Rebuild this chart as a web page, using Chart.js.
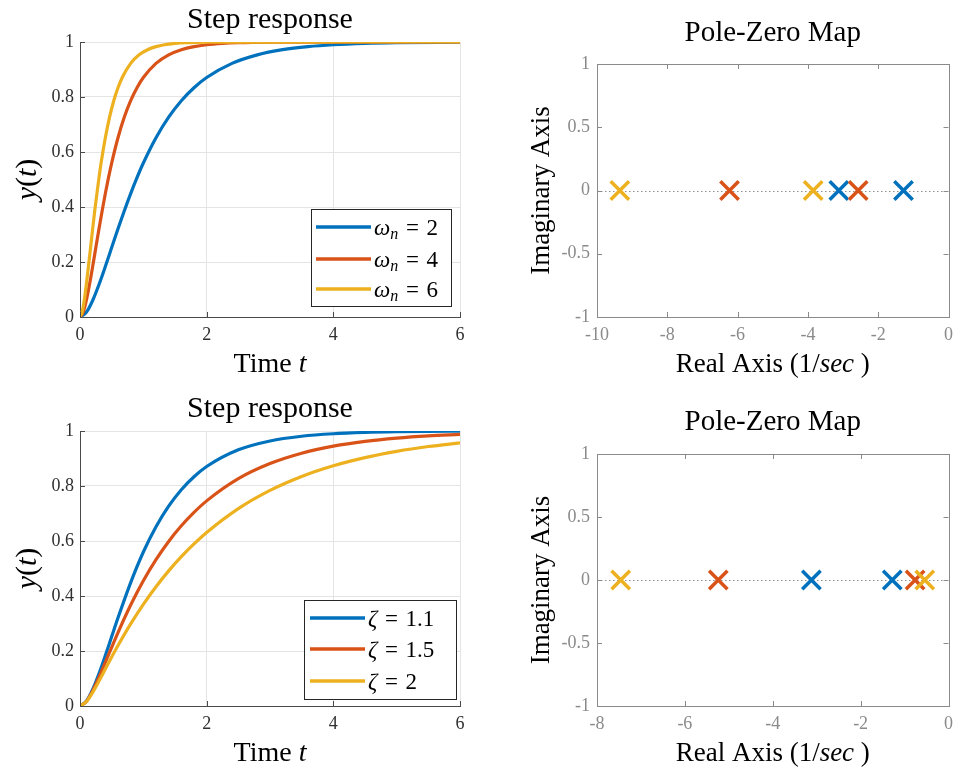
<!DOCTYPE html>
<html>
<head>
<meta charset="utf-8">
<title>Step response and pole-zero maps</title>
<script src="https://cdn.jsdelivr.net/npm/chart.js@4.4.1/dist/chart.umd.min.js"></script>
<style>
  body { margin: 0; background: #fff; }
  #wrap { position: relative; width: 965px; height: 772px; overflow: hidden; }
  canvas { position: absolute; }
</style>
</head>
<body>
<div id="wrap">
  <canvas id="stepTop" width="480" height="389" style="left:0;top:0"></canvas>
  <canvas id="pzTop" width="485" height="389" style="left:480px;top:0"></canvas>
  <canvas id="stepBot" width="480" height="383" style="left:0;top:389px"></canvas>
  <canvas id="pzBot" width="485" height="383" style="left:480px;top:389px"></canvas>
</div>
<script>
const COLORS = ['#0072BD', '#D95319', '#EDB120'];

// top row: zeta = 1.1, natural frequency 2, 4, 6
const natFreqs = [2, 4, 6];
const timeW2 = [0, 0.1, 0.2, 0.3, 0.4, 0.5, 0.6, 0.7, 0.8, 0.9, 1.0, 1.2, 1.4, 1.6, 1.8, 2.0, 2.4, 2.8, 3.2, 3.6, 4.0, 4.5, 5.0, 6.0];
const respW2 = [0, 0.0172, 0.0601, 0.1181, 0.1837, 0.2524, 0.3207, 0.3866, 0.4488, 0.5067, 0.5599, 0.6520, 0.7269, 0.7866, 0.8338, 0.8708, 0.9222, 0.9533, 0.9720, 0.9832, 0.9900, 0.9947, 0.9972, 0.9992];
const timeW4 = [0, 0.05, 0.1, 0.15, 0.2, 0.25, 0.3, 0.35, 0.4, 0.45, 0.5, 0.6, 0.7, 0.8, 0.9, 1.0, 1.2, 1.4, 1.6, 1.8, 2.0, 2.25, 2.5, 3.0, 4.0, 6.0];
const respW4 = [0, 0.0172, 0.0601, 0.1181, 0.1837, 0.2524, 0.3207, 0.3866, 0.4488, 0.5067, 0.5599, 0.6520, 0.7269, 0.7866, 0.8338, 0.8708, 0.9222, 0.9533, 0.9720, 0.9832, 0.9900, 0.9947, 0.9972, 0.9992, 0.9999, 1.0];
const timeW6 = [0, 0.033, 0.067, 0.1, 0.133, 0.167, 0.2, 0.233, 0.267, 0.3, 0.333, 0.4, 0.467, 0.533, 0.6, 0.667, 0.8, 0.933, 1.067, 1.2, 1.333, 1.5, 1.667, 2.0, 2.667, 6.0];
const respW6 = [0, 0.0172, 0.0601, 0.1181, 0.1837, 0.2524, 0.3207, 0.3866, 0.4488, 0.5067, 0.5599, 0.6520, 0.7269, 0.7866, 0.8338, 0.8708, 0.9222, 0.9533, 0.9720, 0.9832, 0.9900, 0.9947, 0.9972, 0.9992, 0.9999, 1.0];
const polesW2 = [-1.28, -3.12];
const polesW4 = [-2.57, -6.23];
const polesW6 = [-3.85, -9.35];

// bottom row: natural frequency 2, zeta = 1.1, 1.5, 2
const dampings = ['1.1', '1.5', '2'];
const timeZ = [0, 0.1, 0.2, 0.3, 0.4, 0.5, 0.6, 0.8, 1.0, 1.2, 1.4, 1.6, 1.8, 2.0, 2.5, 3.0, 3.5, 4.0, 4.5, 5.0, 5.5, 6.0];
const respZ11 = [0, 0.0172, 0.0601, 0.1181, 0.1837, 0.2524, 0.3207, 0.4488, 0.5599, 0.6520, 0.7269, 0.7866, 0.8338, 0.8708, 0.9315, 0.9638, 0.9809, 0.9900, 0.9947, 0.9972, 0.9985, 0.9992];
const respZ15 = [0, 0.0166, 0.0550, 0.1045, 0.1585, 0.2134, 0.2671, 0.3672, 0.4555, 0.5322, 0.5984, 0.6552, 0.7040, 0.7459, 0.8266, 0.8816, 0.9192, 0.9449, 0.9624, 0.9743, 0.9825, 0.9880];
const respZ2 = [0, 0.0155, 0.0496, 0.0909, 0.1344, 0.1778, 0.2198, 0.2985, 0.3696, 0.4337, 0.4913, 0.5430, 0.5894, 0.6312, 0.7179, 0.7842, 0.8349, 0.8737, 0.9034, 0.9261, 0.9435, 0.9568];
const polesZ11 = [-1.28, -3.12];
const polesZ15 = [-0.76, -5.24];
const polesZ2 = [-0.54, -7.46];

const SERIF = '"Liberation Serif", "Times New Roman", serif';
const f = (size, italic) => (italic ? 'italic ' : '') + size + 'px ' + SERIF;

function drawParts(ctx, parts, x, y, align) {
  let w = 0;
  parts.forEach(p => { ctx.font = p.font; p.w = ctx.measureText(p.text).width; w += p.w; });
  let cx = align === 'center' ? x - w / 2 : x;
  ctx.textAlign = 'left';
  ctx.textBaseline = 'alphabetic';
  parts.forEach(p => { ctx.font = p.font; ctx.fillText(p.text, cx, y + (p.dy || 0)); cx += p.w; });
}

const omegaParts = v => [
  {text: 'ω', font: f(23, true)},
  {text: 'n', font: f(16, true), dy: 4},
  {text: '\u2004=\u2004' + v, font: f(23)}
];
const zetaParts = v => [
  {text: 'ζ', font: f(23, true)},
  {text: '\u2004=\u2004' + v, font: f(23)}
];

const stepTitle = 'Step response';
const pzTitle = 'Pole-Zero Map';
const timeLabel = [{text: 'Time ', font: f(28)}, {text: 't', font: f(28, true)}];
const yLabel = [{text: 'y', font: f(30, true)}, {text: '(', font: f(30)}, {text: 't', font: f(30, true)}, {text: ')', font: f(30)}];
const realLabel = [{text: 'Real Axis (1/', font: f(27)}, {text: 'sec', font: f(27, true)}, {text: ' )', font: f(27)}];
const imagLabel = [{text: 'Imaginary Axis', font: f(27)}];

const deco = {
  stepTop: {kind: 'step', title: stepTitle, xl: timeLabel, yl: yLabel, yx: 36,
    legend: {x: 311, y: 209, w: 140, h: 97, rows: [227, 259, 289], lx0: 316, lx1: 371, tx: 374,
      parts: natFreqs.map(omegaParts)}},
  stepBot: {kind: 'step', title: stepTitle, xl: timeLabel, yl: yLabel, yx: 36,
    legend: {x: 304, y: 211, w: 152, h: 99, rows: [229, 260, 292], lx0: 310, lx1: 365, tx: 368,
      parts: dampings.map(zetaParts)}},
  pzTop: {kind: 'pz', title: pzTitle, xl: realLabel, yl: imagLabel, yx: 69},
  pzBot: {kind: 'pz', title: pzTitle, xl: realLabel, yl: imagLabel, yx: 69}
};

const matlabLook = {
  id: 'matlabLook',
  beforeDatasetsDraw(chart) {
    const d = deco[chart.canvas.id];
    if (d.kind !== 'pz') return;
    const {ctx, chartArea: a, scales} = chart;
    const y0 = Math.round(scales.y.getPixelForValue(0)) + 0.5;
    ctx.save();
    ctx.strokeStyle = '#8f8f8f';
    ctx.lineWidth = 1;
    ctx.setLineDash([1.5, 2.5]);
    ctx.beginPath();
    ctx.moveTo(a.left, y0);
    ctx.lineTo(a.right, y0);
    ctx.stroke();
    ctx.restore();
  },
  afterDraw(chart) {
    const d = deco[chart.canvas.id];
    const {ctx, chartArea: a, scales} = chart;
    const pz = d.kind === 'pz';
    const axisCol = pz ? '#8a8a8a' : '#4a4a4a';
    ctx.save();

    // inward tick marks
    ctx.strokeStyle = axisCol;
    ctx.lineWidth = 1;
    ctx.beginPath();
    scales.x.ticks.forEach(t => {
      const px = Math.round(scales.x.getPixelForValue(t.value)) + 0.5;
      ctx.moveTo(px, a.bottom); ctx.lineTo(px, a.bottom - 5);
      if (pz) { ctx.moveTo(px, a.top); ctx.lineTo(px, a.top + 5); }
    });
    scales.y.ticks.forEach(t => {
      const py = Math.round(scales.y.getPixelForValue(t.value)) + 0.5;
      ctx.moveTo(a.left, py); ctx.lineTo(a.left + 5, py);
      if (pz) { ctx.moveTo(a.right, py); ctx.lineTo(a.right - 5, py); }
    });
    ctx.stroke();
    if (pz) ctx.strokeRect(Math.round(a.left) + 0.5, Math.round(a.top) + 0.5, Math.round(a.right - a.left), Math.round(a.bottom - a.top));

    // titles and axis labels
    ctx.fillStyle = '#000';
    const cx = (a.left + a.right) / 2;
    const cy = (a.top + a.bottom) / 2;
    ctx.font = f(pz ? 29 : 30);
    ctx.textAlign = 'center';
    ctx.textBaseline = 'alphabetic';
    ctx.fillText(d.title, cx, pz ? 41 : 28);
    drawParts(ctx, d.xl, cx, 372, 'center');
    ctx.save();
    ctx.translate(d.yx, cy);
    ctx.rotate(-Math.PI / 2);
    drawParts(ctx, d.yl, 0, 0, 'center');
    ctx.restore();

    // legend box
    if (d.legend) {
      const L = d.legend;
      ctx.fillStyle = '#fff';
      ctx.fillRect(L.x, L.y, L.w, L.h);
      ctx.strokeStyle = '#262626';
      ctx.lineWidth = 1;
      ctx.strokeRect(L.x + 0.5, L.y + 0.5, L.w, L.h);
      chart.data.datasets.forEach((ds, i) => {
        const ry = L.rows[i];
        ctx.strokeStyle = ds.borderColor;
        ctx.lineWidth = 3.5;
        ctx.beginPath();
        ctx.moveTo(L.lx0, ry);
        ctx.lineTo(L.lx1, ry);
        ctx.stroke();
        ctx.fillStyle = '#000';
        drawParts(ctx, L.parts[i], L.tx, ry + 8, 'left');
      });
    }
    ctx.restore();
  }
};

const pts = (xs, ys) => xs.map((x, i) => ({x: x, y: ys[i]}));
const polePts = re => re.map(x => ({x: x, y: 0}));

// axis boxes take the whole margin so their labels are not clipped
function axisOpts(min, max, step, kind, which, size) {
  const pz = kind === 'pz';
  return {
    type: 'linear', min: min, max: max,
    ticks: {
      stepSize: step, autoSkip: false, maxRotation: 0, minRotation: 0,
      padding: which === 'x' ? 7 : (pz ? 7 : 6),
      color: pz ? '#8a8a8a' : '#303030',
      font: {family: SERIF, size: 18},
      callback: v => String(Math.round(v * 100) / 100)
    },
    grid: {display: !pz, color: '#e4e4e4', lineWidth: 1, drawTicks: false},
    border: {display: true, color: pz ? '#8a8a8a' : '#4a4a4a', width: 1},
    afterFit: s => { if (which === 'x') s.height = size; else s.width = size; }
  };
}

function makeChart(id, datasets, kind, xr, yr, area) {
  const cv = document.getElementById(id);
  new Chart(cv, {
    type: kind === 'pz' ? 'scatter' : 'line',
    data: {datasets: datasets},
    options: {
      responsive: false,
      animation: false,
      layout: {padding: {left: 0, bottom: 0, top: area.top, right: cv.width - area.right}},
      plugins: {legend: {display: false}, title: {display: false}, tooltip: {enabled: false}},
      scales: {
        x: axisOpts(xr[0], xr[1], xr[2], kind, 'x', cv.height - area.bottom),
        y: axisOpts(yr[0], yr[1], yr[2], kind, 'y', area.left)
      }
    },
    plugins: [matlabLook]
  });
}

const lineSet = (label, data, i) => ({
  label: label, data: data, borderColor: COLORS[i], backgroundColor: COLORS[i],
  borderWidth: 3.2, pointRadius: 0, cubicInterpolationMode: 'monotone', fill: false, order: 3 - i
});
const poleSet = (label, data, i) => ({
  label: label, data: data, borderColor: COLORS[i], backgroundColor: COLORS[i],
  pointStyle: 'crossRot', pointRadius: 13, pointBorderWidth: 3.5, order: 3 - i, clip: false
});

makeChart('stepTop', [
  lineSet('ωn = 2', pts(timeW2, respW2), 0),
  lineSet('ωn = 4', pts(timeW4, respW4), 1),
  lineSet('ωn = 6', pts(timeW6, respW6), 2)
], 'step', [0, 6, 2], [0, 1, 0.2], {left: 80, top: 42, right: 460, bottom: 317});

makeChart('pzTop', [
  poleSet('ωn = 2', polePts(polesW2), 0),
  poleSet('ωn = 4', polePts(polesW4), 1),
  poleSet('ωn = 6', polePts(polesW6), 2)
], 'pz', [-10, 0, 2], [-1, 1, 0.5], {left: 117, top: 64, right: 480, bottom: 317});

makeChart('stepBot', [
  lineSet('ζ = 1.1', pts(timeZ, respZ11), 0),
  lineSet('ζ = 1.5', pts(timeZ, respZ15), 1),
  lineSet('ζ = 2', pts(timeZ, respZ2), 2)
], 'step', [0, 6, 2], [0, 1, 0.2], {left: 80, top: 42, right: 460, bottom: 317});

makeChart('pzBot', [
  poleSet('ζ = 1.1', polePts(polesZ11), 0),
  poleSet('ζ = 1.5', polePts(polesZ15), 1),
  poleSet('ζ = 2', polePts(polesZ2), 2)
], 'pz', [-8, 0, 2], [-1, 1, 0.5], {left: 117, top: 65, right: 480, bottom: 317});
</script>
</body>
</html>
